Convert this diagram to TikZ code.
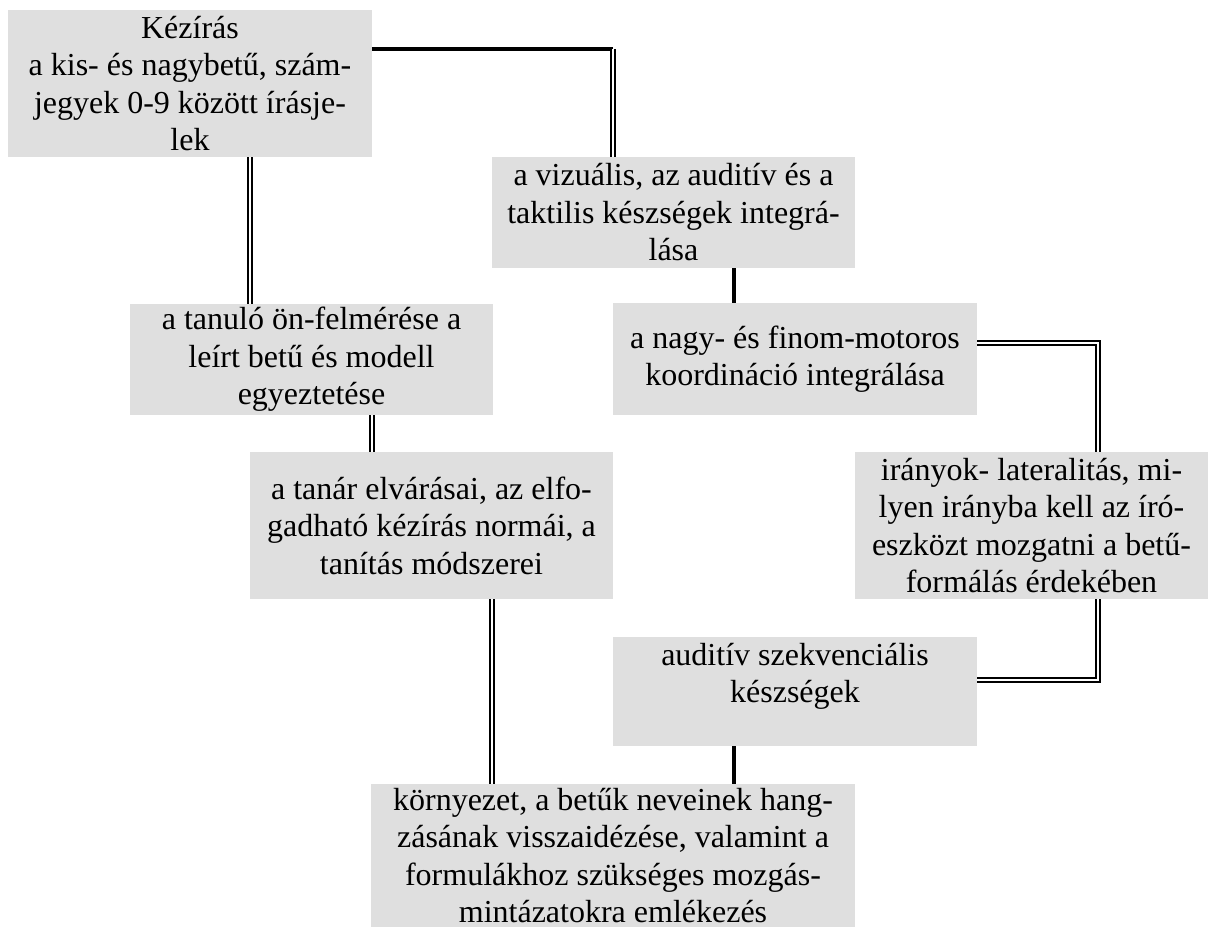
\documentclass[tikz,border=0pt]{standalone}
\usepackage{fontspec}
\setmainfont{Liberation Serif}
\usepackage{xcolor}
\usepackage{tikz}
\usetikzlibrary{calc}
\definecolor{boxgray}{HTML}{DFDFDF}
\tikzset{ skill_box/.style = {rectangle, fill=boxgray, align=center, inner sep=0pt, font=\fontsize{16}{18.75}\selectfont} }
\tikzset{ dbl_link/.style = {double, line width=0.95pt, double distance=1pt} }
\tikzset{ bold_link/.style = {line width=2pt} }

\begin{document}
\begin{tikzpicture}[x=0.5pt, y=-0.5pt]
            \useasboundingbox (0,0) rectangle (1208,927);
            \node[skill_box, minimum width=182pt, minimum height=73.5pt] (0) at (190, 83.5) {Kézírás\\ a kis- és nagybetű, szám-\\ jegyek 0-9 között írásje-\\ lek};
            \node[skill_box, minimum width=181.5pt, minimum height=55.5pt] (1) at (673.5, 212.5) {a vizuális, az auditív és a\\ taktilis készségek integrá-\\ lása};
            \node[skill_box, minimum width=181.5pt, minimum height=55.5pt] (2) at (311.5, 359.5) {a tanuló ön-felmérése a\\ leírt betű és modell\\ egyeztetése};
            \node[skill_box, minimum width=182pt, minimum height=56pt] (3) at (795, 359) {a nagy- és finom-motoros\\ koordináció integrálása};
            \node[skill_box, minimum width=181.5pt, minimum height=73.5pt] (4) at (431.5, 525.5) {a tanár elvárásai, az elfo-\\ gadható kézírás normái, a\\ tanítás módszerei};
            \node[skill_box, minimum width=176.5pt, minimum height=73.5pt] (5) at (1031.5, 525.5) {irányok- lateralitás, mi-\\ lyen irányba kell az író-\\ eszközt mozgatni a betű-\\ formálás érdekében};
            \node[skill_box, minimum width=182pt, minimum height=54.5pt] (6) at (795, 691.5) {auditív szekvenciális\\ készségek\\ \mbox{}};
            \node[skill_box, minimum width=242pt, minimum height=71.5pt] (7) at (613, 855.5) {környezet, a betűk neveinek hang-\\ zásának visszaidézése, valamint a\\ formulákhoz szükséges mozgás-\\ mintázatokra emlékezés};
            \coordinate (c0) at (613, 49);
            \coordinate (c1) at (1098, 343);
            \coordinate (c2) at (1098, 680);
            \coordinate (x0) at (250, 0);
            \coordinate (x1) at (372, 0);
            \coordinate (x2) at (492, 0);
            \coordinate (x3) at (734, 0);
            \draw[bold_link] (0.east |- c0) -- (c0);
            \draw[dbl_link] (c0) -- (c0 |- 1.north);
            \draw[dbl_link] (x0 |- 0.south) -- (x0 |- 2.north);
            \draw[bold_link] (x3 |- 1.south) -- (x3 |- 3.north);
            \draw[dbl_link] (x1 |- 2.south) -- (x1 |- 4.north);
            \draw[dbl_link] (3.east |- c1) -- (c1) -- (c1 |- 5.north);
            \draw[dbl_link] (c2 |- 5.south) -- (c2) -- (6.east |- c2);
            \draw[bold_link] (x3 |- 6.south) -- (x3 |- 7.north);
            \draw[dbl_link] (x2 |- 4.south) -- (x2 |- 7.north);
        \end{tikzpicture}
\end{document}
